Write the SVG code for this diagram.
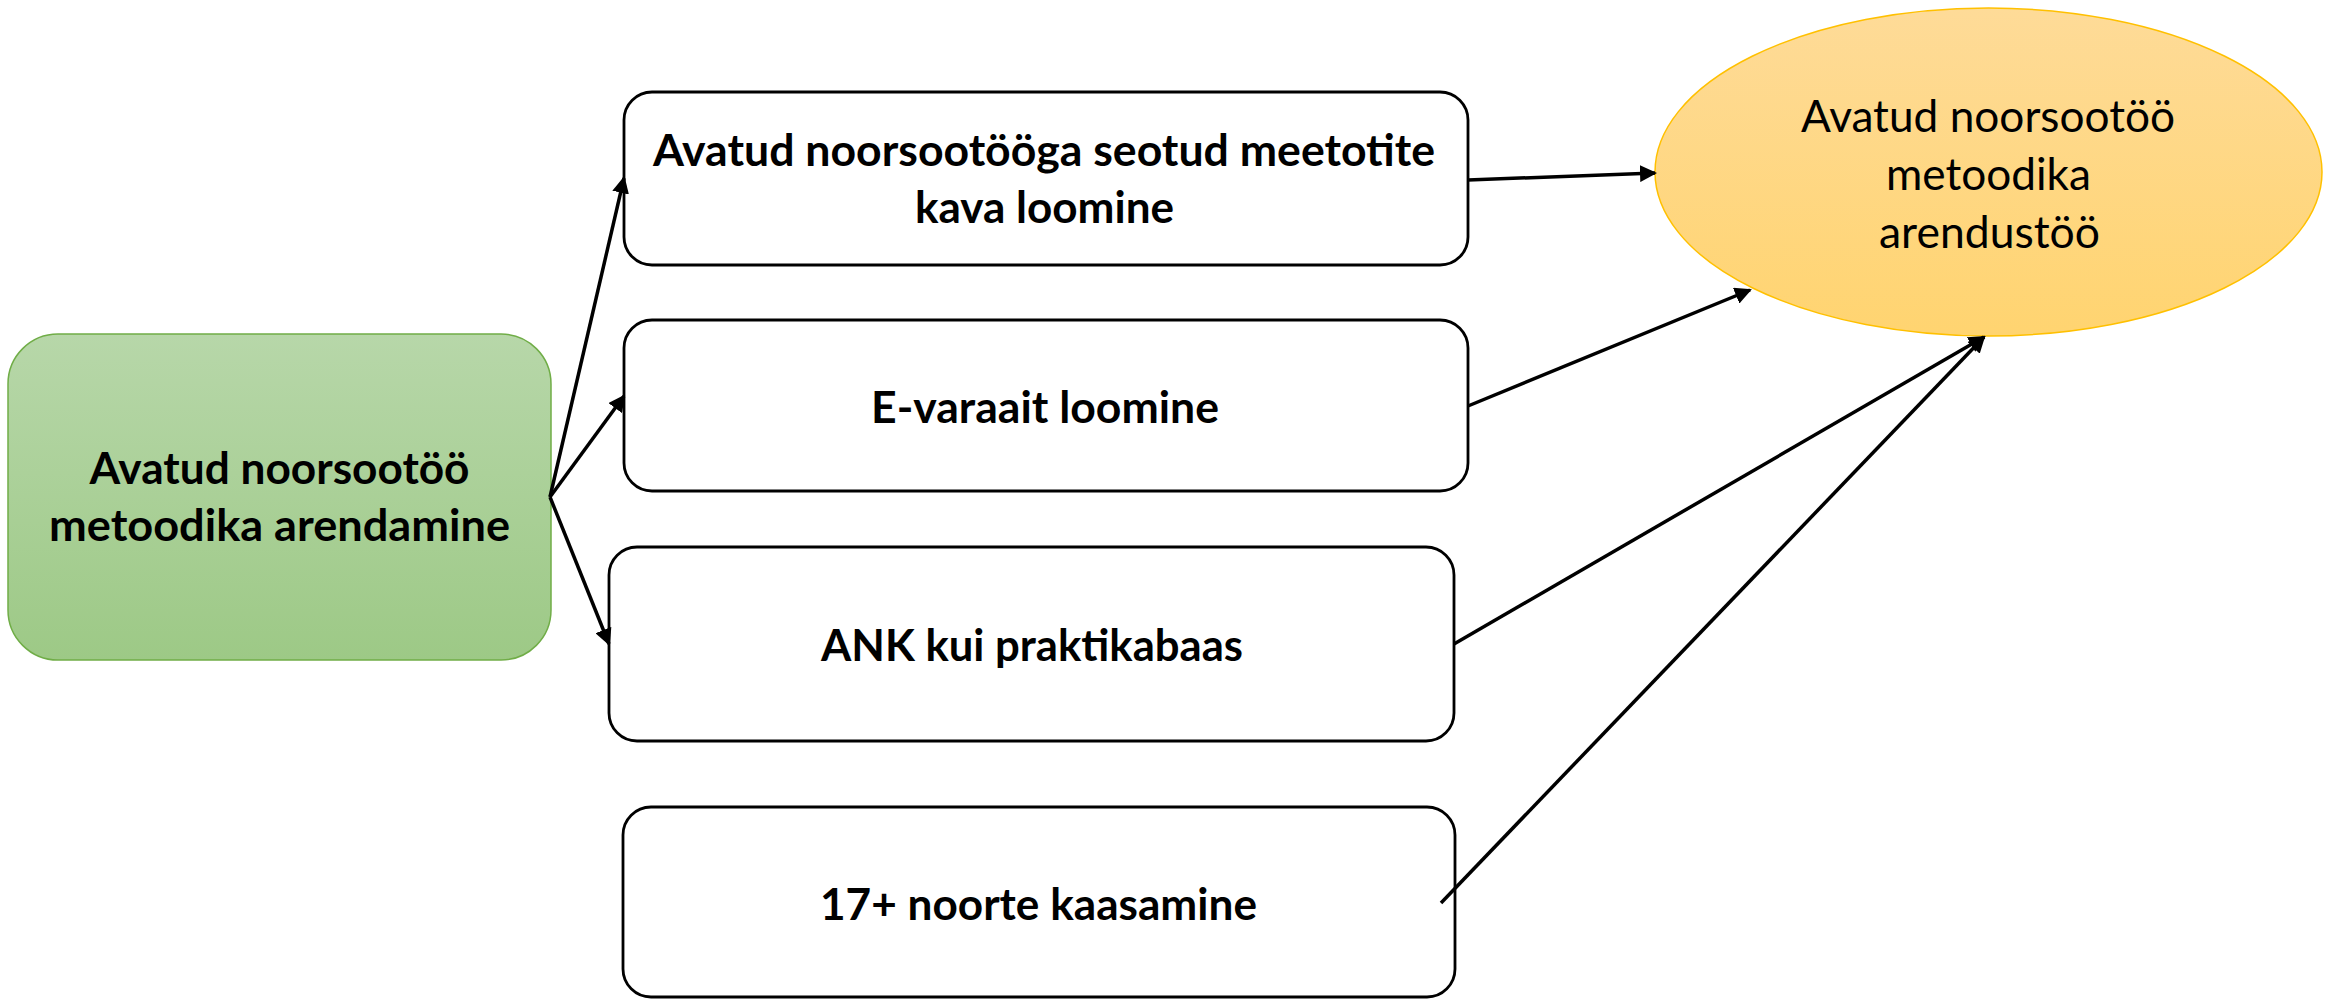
<svg xmlns="http://www.w3.org/2000/svg" width="2331" height="1000" viewBox="0 0 2331 1000">
<defs>
<linearGradient id="gGreen" x1="0" y1="0" x2="0" y2="1">
<stop offset="0" stop-color="#b7d7a9"/>
<stop offset="1" stop-color="#9dc986"/>
</linearGradient>
<linearGradient id="gGold" x1="0" y1="0" x2="0" y2="1">
<stop offset="0" stop-color="#fedb98"/>
<stop offset="1" stop-color="#ffd470"/>
</linearGradient>
<marker id="arr" markerUnits="userSpaceOnUse" markerWidth="17" markerHeight="17" refX="15" refY="8.5" orient="auto" viewBox="0 0 17 17">
<path d="M0,0 L17,8.5 L0,17 z" fill="#000"/>
</marker>
<style>
.box{fill:#fff;stroke:#000;stroke-width:2.8}
.lbl{font-family:Lato,"Open Sans","Liberation Sans",sans-serif;font-size:44px;font-weight:bold;fill:#000;text-anchor:middle}
.reg{font-family:Lato,"Open Sans","Liberation Sans",sans-serif;font-size:44px;font-weight:normal;fill:#000;text-anchor:middle}
.con{stroke:#000;stroke-width:3.5;fill:none;marker-end:url(#arr)}
</style>
</defs>
<rect width="2331" height="1000" fill="#fff"/>
<g id="n-start">
<rect x="8" y="334" width="543" height="326" rx="50" ry="50" fill="url(#gGreen)" stroke="#70ad47" stroke-width="1.5"/>
<text class="lbl" x="279.5" y="484" textLength="380" lengthAdjust="spacingAndGlyphs">Avatud noorsootöö</text>
<text class="lbl" x="279.5" y="541" textLength="461" lengthAdjust="spacingAndGlyphs">metoodika arendamine</text>
</g>
<g id="n-kava">
<rect class="box" x="624" y="92" width="844" height="173" rx="28" ry="28"/>
<text class="lbl" x="1044" y="166" textLength="782" lengthAdjust="spacingAndGlyphs">Avatud noorsootööga seotud meetotite</text>
<text class="lbl" x="1044.5" y="223" textLength="259" lengthAdjust="spacingAndGlyphs">kava loomine</text>
</g>
<g id="n-evaraait">
<rect class="box" x="624" y="320" width="844" height="171" rx="28" ry="28"/>
<text class="lbl" x="1045" y="423" textLength="348" lengthAdjust="spacingAndGlyphs">E-varaait loomine</text>
</g>
<g id="n-ank">
<rect class="box" x="609" y="547" width="845" height="194" rx="28" ry="28"/>
<text class="lbl" x="1032" y="661" textLength="422" lengthAdjust="spacingAndGlyphs">ANK kui praktikabaas</text>
</g>
<g id="n-17">
<rect class="box" x="623" y="807" width="832" height="190" rx="28" ry="28"/>
<text class="lbl" x="1038.5" y="920" textLength="437" lengthAdjust="spacingAndGlyphs">17+ noorte kaasamine</text>
</g>
<g id="n-result">
<ellipse cx="1988.5" cy="172" rx="333.5" ry="164" fill="url(#gGold)" stroke="#ffc000" stroke-width="1.5"/>
<text class="reg" x="1988" y="132" textLength="374" lengthAdjust="spacingAndGlyphs">Avatud noorsootöö</text>
<text class="reg" x="1988.5" y="190" textLength="205" lengthAdjust="spacingAndGlyphs">metoodika</text>
<text class="reg" x="1989.5" y="248" textLength="221" lengthAdjust="spacingAndGlyphs">arendustöö</text>
</g>
<g id="connectors">
<line class="con" x1="550" y1="497" x2="624" y2="178"/>
<line class="con" x1="550" y1="497" x2="624" y2="396"/>
<line class="con" x1="550" y1="497" x2="609" y2="644"/>
<line class="con" x1="1468" y1="180" x2="1655" y2="173"/>
<line class="con" x1="1468" y1="406" x2="1750" y2="290"/>
<line class="con" x1="1454" y1="644" x2="1984" y2="337"/>
<line class="con" x1="1441" y1="903" x2="1984" y2="337"/>
</g>
</svg>
